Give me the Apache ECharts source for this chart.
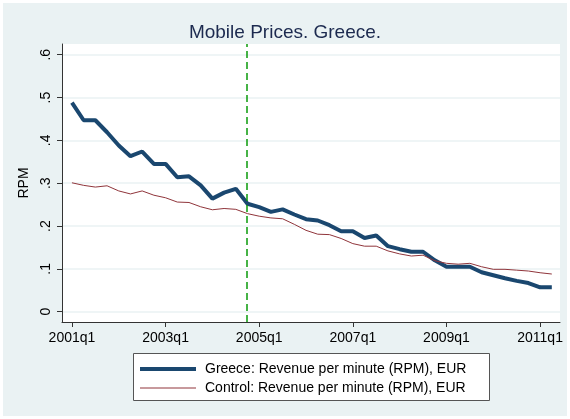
<!DOCTYPE html>
<html>
<head>
<meta charset="utf-8">
<script src="https://cdn.jsdelivr.net/npm/echarts@6/dist/echarts.min.js"></script>
<style>
  html, body { margin: 0; padding: 0; background: #ffffff; }
  #main { width: 570px; height: 419px; }
</style>
</head>
<body>
<div id="main"></div>
<script>
// quarters 2001q1 .. 2011q2
var quarters = [
  '2001q1','2001q2','2001q3','2001q4','2002q1','2002q2','2002q3','2002q4',
  '2003q1','2003q2','2003q3','2003q4','2004q1','2004q2','2004q3','2004q4',
  '2005q1','2005q2','2005q3','2005q4','2006q1','2006q2','2006q3','2006q4',
  '2007q1','2007q2','2007q3','2007q4','2008q1','2008q2','2008q3','2008q4',
  '2009q1','2009q2','2009q3','2009q4','2010q1','2010q2','2010q3','2010q4',
  '2011q1','2011q2'
];
var greeceRPM = [
  0.488, 0.447, 0.447, 0.419, 0.388, 0.363, 0.374, 0.345,
  0.345, 0.314, 0.316, 0.295, 0.264, 0.278, 0.287, 0.252,
  0.244, 0.233, 0.239, 0.227, 0.216, 0.213, 0.202, 0.188,
  0.188, 0.172, 0.178, 0.153, 0.146, 0.140, 0.140, 0.120,
  0.105, 0.105, 0.105, 0.092, 0.085, 0.078, 0.072, 0.067,
  0.057, 0.057
];
var controlRPM = [
  0.301, 0.295, 0.291, 0.294, 0.282, 0.275, 0.282, 0.272,
  0.266, 0.256, 0.255, 0.245, 0.238, 0.241, 0.239, 0.229,
  0.223, 0.219, 0.217, 0.204, 0.190, 0.181, 0.180, 0.171,
  0.159, 0.153, 0.153, 0.142, 0.135, 0.130, 0.132, 0.119,
  0.113, 0.111, 0.113, 0.105, 0.099, 0.099, 0.097, 0.095,
  0.091, 0.088
];
var xTickQuarters = ['2001q1', '2003q1', '2005q1', '2007q1', '2009q1', '2011q1'];
var yTicks = [0, 0.1, 0.2, 0.3, 0.4, 0.5, 0.6];
var yTickLabels = ['0', '.1', '.2', '.3', '.4', '.5', '.6'];
var eventQuarter = '2004q4';

var chart = echarts.init(document.getElementById('main'));

function pairs(vals) {
  return vals.map(function (v, i) { return [i, v]; });
}
var xTickIdx = xTickQuarters.map(function (q) { return quarters.indexOf(q); });
var eventIdx = quarters.indexOf(eventQuarter) - 0.07;

var option = {
  backgroundColor: '#eaf2f3',
  animation: false,
  textStyle: { fontFamily: 'Liberation Sans, Arial, sans-serif' },
  title: {
    text: 'Mobile Prices. Greece.',
    left: 'center',
    top: 18,
    textStyle: { fontSize: 19, fontWeight: 'normal', color: '#1c2a4f' }
  },
  grid: {
    left: 62, top: 44, right: 10, bottom: 97,
    show: true, backgroundColor: '#ffffff', borderWidth: 0
  },
  xAxis: {
    type: 'value',
    min: -0.85, max: 41.7,
    axisLine: { show: true, onZero: false, lineStyle: { color: '#333333', width: 1 } },
    axisTick: { show: true, length: 5, customValues: xTickIdx, lineStyle: { color: '#333333' } },
    axisLabel: {
      customValues: xTickIdx,
      color: '#000000', fontSize: 14, margin: 9,
      formatter: function (v) { return quarters[Math.round(v)]; }
    },
    splitLine: { show: false }
  },
  yAxis: {
    type: 'value',
    min: -0.024, max: 0.625,
    name: 'RPM',
    nameLocation: 'middle',
    nameGap: 29,
    nameRotate: 90,
    nameTextStyle: { fontSize: 14, color: '#000000' },
    axisLine: { show: true, onZero: false, lineStyle: { color: '#333333', width: 1 } },
    axisTick: { show: true, length: 5, customValues: yTicks, lineStyle: { color: '#333333' } },
    axisLabel: {
      customValues: yTicks,
      rotate: 90,
      color: '#000000', fontSize: 14, margin: 9,
      formatter: function (v) { return yTickLabels[yTicks.indexOf(Math.round(v * 10) / 10)]; }
    },
    splitLine: { show: true, customValues: yTicks, lineStyle: { color: '#eaf2f3', width: 1.5 } }
  },
  legend: {
    orient: 'vertical',
    left: 138, top: 362,
    itemWidth: 56, itemHeight: 14, itemGap: 5,
    padding: 0,
    itemStyle: { opacity: 0 },
    textStyle: { fontSize: 14, color: '#000000', padding: [0, 0, 0, 4] },
    data: [
      { name: 'Greece: Revenue per minute (RPM), EUR', lineStyle: { width: 4 } },
      { name: 'Control: Revenue per minute (RPM), EUR', lineStyle: { width: 1 } }
    ]
  },
  graphic: [
    {
      type: 'rect', z: -1, silent: true,
      shape: { x: 133.5, y: 353.5, width: 356, height: 47 },
      style: { fill: '#ffffff', stroke: '#555555', lineWidth: 1 }
    },
    {
      type: 'rect', z: 100, silent: true,
      shape: { x: 1.5, y: 1.5, width: 567, height: 416 },
      style: { fill: 'none', stroke: '#ffffff', lineWidth: 3 }
    }
  ],
  series: [
    {
      name: 'Greece: Revenue per minute (RPM), EUR',
      type: 'line',
      data: pairs(greeceRPM),
      symbol: 'none',
      lineStyle: { color: '#1a476f', width: 4 },
      itemStyle: { color: '#1a476f' },
      markLine: {
        silent: true,
        symbol: 'none',
        label: { show: false },
        lineStyle: { color: '#0a9a0a', type: [7, 4], width: 1.5 },
        data: [{ xAxis: eventIdx }]
      }
    },
    {
      name: 'Control: Revenue per minute (RPM), EUR',
      type: 'line',
      data: pairs(controlRPM),
      symbol: 'none',
      lineStyle: { color: '#90353b', width: 1 },
      itemStyle: { color: '#90353b' }
    }
  ]
};
chart.setOption(option);
</script>
</body>
</html>
